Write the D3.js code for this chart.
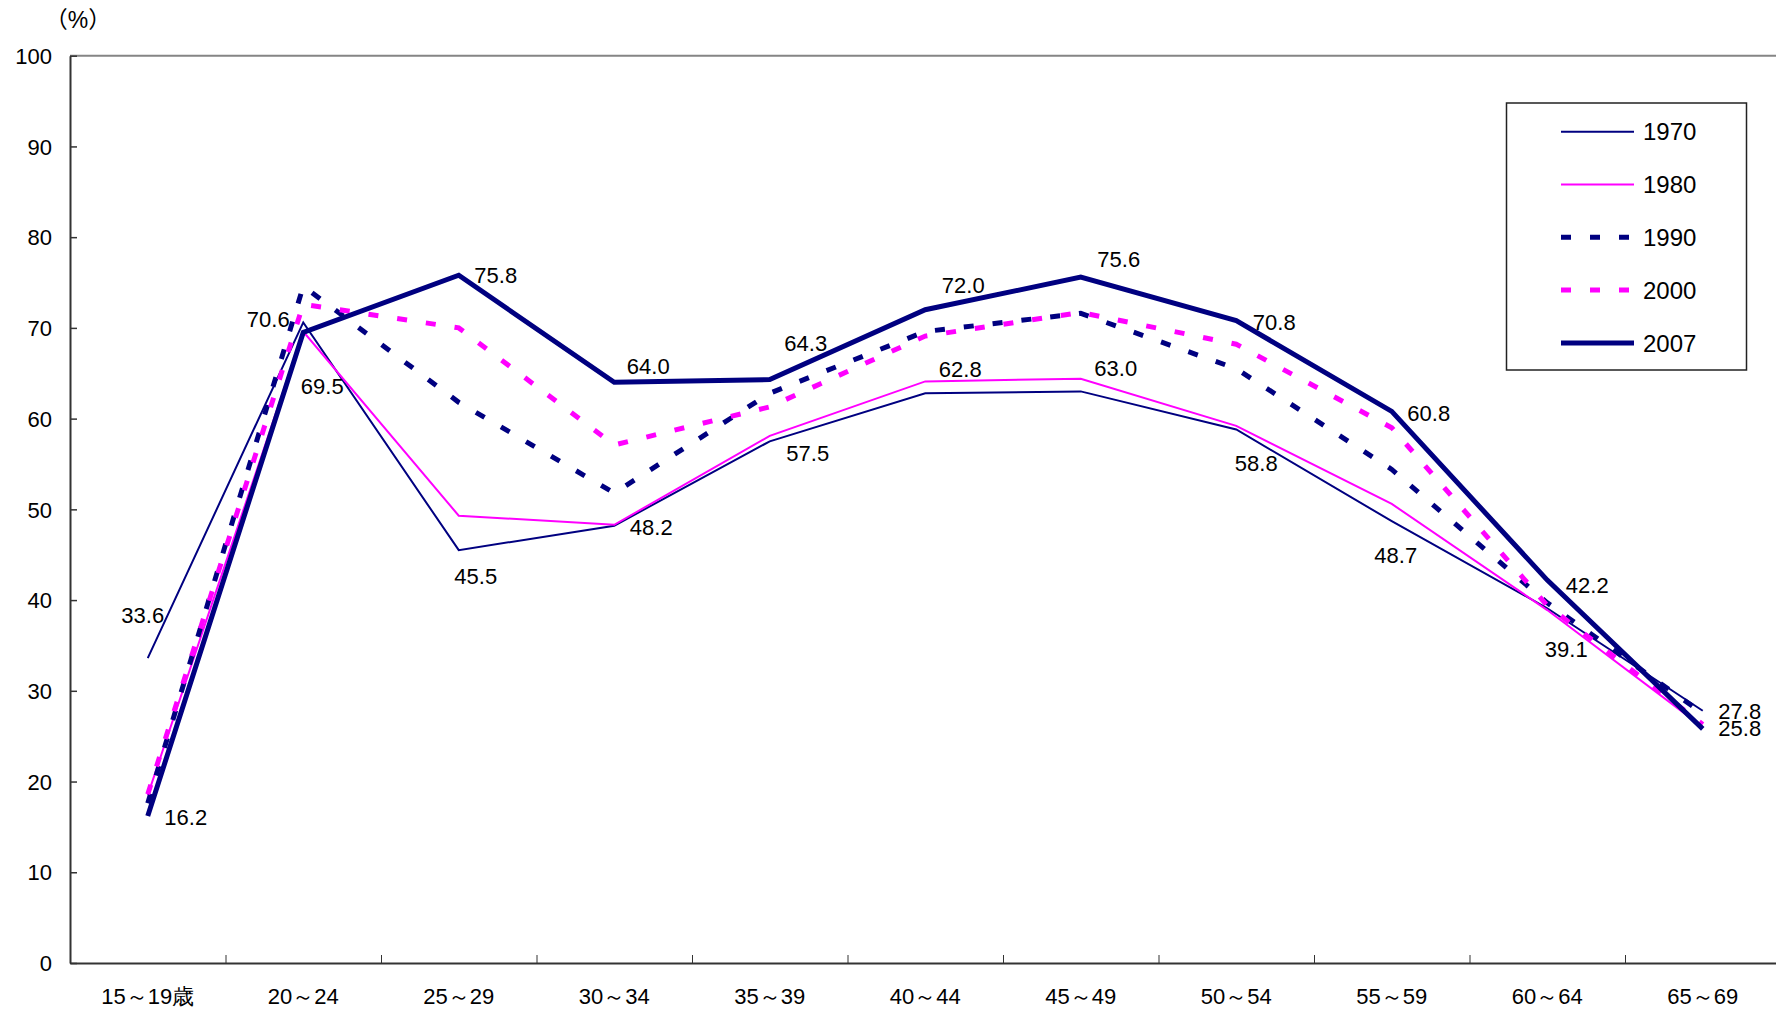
<!DOCTYPE html>
<html>
<head>
  <meta charset="UTF-8">
  <title>年齢階級別労働力率</title>
  <script src="https://d3js.org/d3.v7.min.js"></script>
  <style>
    body {
      margin: 0;
      background: #fff;
    }

    svg {
      display: block;
      font-family: "Liberation Sans", "Noto Sans CJK JP", sans-serif;
    }

    .axis text {
      font-size: 22px;
      fill: #000;
    }

    .label {
      font-size: 22px;
      fill: #000;
    }

    .legend text {
      font-size: 24px;
      fill: #000;
    }
  </style>
</head>
<body>
  <svg id="chart"></svg>

  <script>
    // データ
    var categories = ["15～19歳", "20～24", "25～29", "30～34", "35～39", "40～44",
                      "45～49", "50～54", "55～59", "60～64", "65～69"];
    var years = ["1970", "1980", "1990", "2000", "2007"];

    var v1970 = [33.6, 70.6, 45.5, 48.2, 57.5, 62.8, 63.0, 58.8, 48.7, 39.1, 27.8];
    var v1980 = [18.5, 69.6, 49.3, 48.3, 58.1, 64.1, 64.4, 59.2, 50.6, 38.9, 26.0];
    var v1990 = [17.6, 74.6, 61.8, 51.8, 62.8, 69.6, 71.6, 65.5, 54.4, 39.7, 27.5];
    var v2000 = [18.6, 72.6, 70.0, 57.1, 61.3, 69.1, 71.7, 68.2, 59.0, 39.4, 26.3];
    var v2007 = [16.2, 69.5, 75.8, 64.0, 64.3, 72.0, 75.6, 70.8, 60.8, 42.2, 25.8];

    var yTicks = [0, 10, 20, 30, 40, 50, 60, 70, 80, 90, 100];

    // 線のスタイル
    var styles = {
      "1970": { color: "#000080", width: 2, dash: null },
      "1980": { color: "#ff00ff", width: 2, dash: null },
      "1990": { color: "#000080", width: 5, dash: "10,19" },
      "2000": { color: "#ff00ff", width: 5, dash: "10,19" },
      "2007": { color: "#000080", width: 5, dash: null }
    };

    var series = [
      { year: "1970", values: v1970 },
      { year: "1980", values: v1980 },
      { year: "1990", values: v1990 },
      { year: "2000", values: v2000 },
      { year: "2007", values: v2007 }
    ];

    // ラベルの位置 (点からのずれ)
    var off1970 = [[-5, -43], [-35, -3], [17, 26], [37, 1], [38, 12], [35, -24],
                   [35, -23], [20, 34], [4, 34], [19, 41], [37, 0]];
    var off2007 = [[38, 1], [19, 54], [37, 0], [34, -16], [36, -37], [38, -25],
                   [38, -18], [38, 1], [37, 2], [40, 5], [37, -1]];

    var W = 1776, H = 1011;
    var plotLeft = 70, plotTop = 55.7, plotBottom = 963, band = 155.5;

    var svg = d3.select("#chart")
                .attr("width", W)
                .attr("height", H);

    // 比例尺
    var x = d3.scaleBand()
              .domain(categories)
              .range([plotLeft, plotLeft + band * categories.length])
              .padding(0);

    var xb = d3.scaleLinear()
               .domain([0, categories.length])
               .range([plotLeft, plotLeft + band * categories.length]);

    var y = d3.scaleLinear()
              .domain([0, 100])
              .range([plotBottom, plotTop]);

    function cx(i) { return x(categories[i]) + x.bandwidth() / 2; }

    // 上の枠線
    svg.append("line")
       .attr("x1", plotLeft).attr("x2", W)
       .attr("y1", y(100)).attr("y2", y(100))
       .attr("stroke", "#858585")
       .attr("stroke-width", 2);

    // Y軸
    var yAxis = svg.append("g")
       .attr("class", "axis")
       .attr("transform", "translate(" + plotLeft + ",0)")
       .call(d3.axisLeft(y).tickValues(yTicks).tickSizeInner(-7).tickSizeOuter(0).tickPadding(18));
    yAxis.select(".domain").attr("stroke", "#333").attr("stroke-width", 2);
    yAxis.selectAll(".tick line").attr("stroke", "#333").attr("stroke-width", 1.5);
    yAxis.selectAll("text").attr("dy", "0.35em");

    // X軸 (区切りの目盛)
    var xTickAxis = svg.append("g")
       .attr("class", "axis")
       .attr("transform", "translate(0," + plotBottom + ")")
       .call(d3.axisBottom(xb).tickValues(d3.range(1, categories.length)).tickSizeInner(-8).tickSizeOuter(0).tickFormat(""));
    xTickAxis.select(".domain").attr("stroke", "#333").attr("stroke-width", 2);
    xTickAxis.selectAll(".tick line").attr("stroke", "#333").attr("stroke-width", 1);

    // X軸ラベル
    var xAxis = svg.append("g")
       .attr("class", "axis")
       .attr("transform", "translate(0," + plotBottom + ")")
       .call(d3.axisBottom(x).tickSize(0).tickPadding(25));
    xAxis.select(".domain").remove();

    // 単位
    svg.append("text")
       .attr("x", 78)
       .attr("y", 28)
       .attr("text-anchor", "middle")
       .style("font-size", "23px")
       .text("（%）");

    // 折れ線
    var line = d3.line()
                 .x(function(d, i) { return cx(i); })
                 .y(function(d) { return y(d); });

    svg.selectAll("path.series")
       .data(series)
       .enter()
       .append("path")
       .attr("class", "series")
       .attr("d", function(d) { return line(d.values); })
       .attr("fill", "none")
       .attr("stroke", function(d) { return styles[d.year].color; })
       .attr("stroke-width", function(d) { return styles[d.year].width; })
       .attr("stroke-dasharray", function(d) { return styles[d.year].dash; })
       .attr("stroke-linejoin", "miter");

    // 数値ラベル (1970 と 2007)
    function addLabels(values, offs) {
      svg.selectAll(null)
         .data(values)
         .enter()
         .append("text")
         .attr("class", "label")
         .attr("x", function(d, i) { return cx(i) + offs[i][0]; })
         .attr("y", function(d, i) { return y(d) + offs[i][1]; })
         .attr("text-anchor", "middle")
         .attr("dy", "0.36em")
         .text(function(d) { return d.toFixed(1); });
    }
    addLabels(v1970, off1970);
    addLabels(v2007, off2007);

    // 凡例
    var legend = svg.append("g").attr("class", "legend");
    legend.append("rect")
          .attr("x", 1506.5).attr("y", 103)
          .attr("width", 240).attr("height", 267)
          .attr("fill", "#fff")
          .attr("stroke", "#222")
          .attr("stroke-width", 1.5);

    var rows = legend.selectAll("g.row")
          .data(years)
          .enter()
          .append("g")
          .attr("class", "row")
          .attr("transform", function(d, i) { return "translate(0," + (131.7 + i * 52.8) + ")"; });

    rows.append("line")
        .attr("x1", 1561).attr("x2", 1634)
        .attr("stroke", function(d) { return styles[d].color; })
        .attr("stroke-width", function(d) { return styles[d].width; })
        .attr("stroke-dasharray", function(d) { return styles[d].dash; });

    rows.append("text")
        .attr("x", 1643)
        .attr("dy", "0.36em")
        .text(function(d) { return d; });
  </script>
</body>
</html>
